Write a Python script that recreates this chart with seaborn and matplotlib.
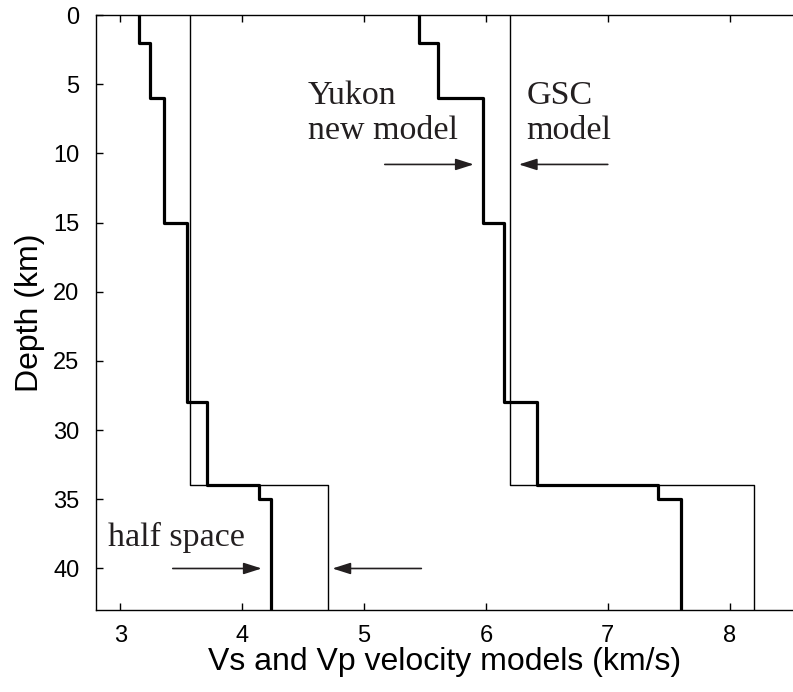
import numpy as np
import pandas as pd
import matplotlib
matplotlib.use("Agg")
import matplotlib.pyplot as plt
import seaborn as sns

# Layered crustal velocity models (layer top depth in km, velocity in km/s)
yukon_tops = [0, 2, 6, 15, 28, 34, 35]
yukon_vs = [3.15, 3.24, 3.36, 3.55, 3.71, 4.14, 4.24]
yukon_vp = [5.45, 5.61, 5.98, 6.15, 6.42, 7.41, 7.60]

gsc_tops = [0, 34]
gsc_vs = [3.57, 4.70]
gsc_vp = [6.20, 8.20]

max_depth = 43.0


def staircase(tops, values, bottom):
    """Turn a layered model into a stepped profile (velocity, depth)."""
    bottoms = list(tops[1:]) + [bottom]
    vel, dep = [], []
    for v, t, b in zip(values, tops, bottoms):
        vel += [v, v]
        dep += [t, b]
    return pd.DataFrame({"velocity": vel, "depth": dep})


sns.set_style("ticks")
plt.rcParams["font.family"] = ["Liberation Sans", "DejaVu Sans"]

fig = plt.figure(figsize=(7.93, 6.92), dpi=100)
ax = fig.add_axes([96 / 793, 82 / 692, 1 - 96 / 793, 595 / 692])

ink = "#231f20"
profiles = [
    (gsc_tops, gsc_vs, 1.0),
    (gsc_tops, gsc_vp, 1.0),
    (yukon_tops, yukon_vs, 2.3),
    (yukon_tops, yukon_vp, 2.3),
]
for tops, vals, lw in profiles:
    df = staircase(tops, vals, max_depth)
    sns.lineplot(data=df, x="velocity", y="depth", sort=False, estimator=None,
                 color="black", linewidth=lw, ax=ax)

ax.set_xlim(2.8, 8.52)
ax.set_ylim(max_depth, 0)
ax.set_xticks([3, 4, 5, 6, 7, 8])
ax.set_yticks(np.arange(0, 45, 5))
ax.tick_params(axis="x", direction="in", top=True, length=5, width=1,
               labelsize=17, pad=11, colors="black")
ax.tick_params(axis="y", direction="in", length=5, width=1,
               labelsize=17, pad=12, colors="black")
for side in ["left", "top", "bottom"]:
    ax.spines[side].set_linewidth(1.0)
    ax.spines[side].set_color("black")
ax.spines["right"].set_visible(False)

ax.set_xlabel("Vs and Vp velocity models (km/s)", fontsize=23, labelpad=0,
              color="black")
ax.set_ylabel("Depth (km)", fontsize=23, labelpad=6, color="black")

serif = dict(family=["Liberation Serif", "DejaVu Serif"], fontsize=24.5,
             color=ink, linespacing=1.2)
ax.text(4.54, 8.96, "Yukon\nnew model", ha="left", va="baseline", **serif)
ax.text(6.33, 8.96, "GSC\nmodel", ha="left", va="baseline", **serif)
ax.text(2.90, 38.35, "half space", ha="left", va="baseline", **serif)

arrow = dict(arrowstyle="-|>,head_length=1.1,head_width=0.35",
             color=ink, lw=1.2, shrinkA=0, shrinkB=0)
ax.annotate("", xy=(5.90, 10.8), xytext=(5.17, 10.8), arrowprops=arrow)
ax.annotate("", xy=(6.27, 10.8), xytext=(7.0, 10.8), arrowprops=arrow)
ax.annotate("", xy=(4.16, 40.0), xytext=(3.43, 40.0), arrowprops=arrow)
ax.annotate("", xy=(4.74, 40.0), xytext=(5.47, 40.0), arrowprops=arrow)

fig.savefig("out.png", dpi=100)
